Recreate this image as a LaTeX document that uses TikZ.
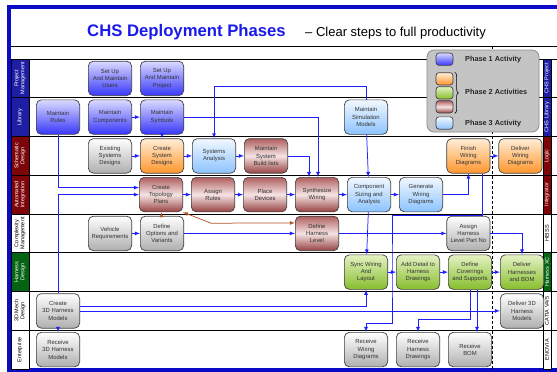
\documentclass[tikz,border=0pt]{standalone}
\usepackage{fontspec}
\setmainfont{Liberation Sans}
\usetikzlibrary{calc,positioning,decorations.pathreplacing}

\definecolor{frameblue}{RGB}{10,10,200}
\definecolor{titleblue}{RGB}{25,25,235}
\definecolor{laneblue}{RGB}{30,30,165}
\definecolor{lanered}{RGB}{125,5,10}
\definecolor{lanegreen}{RGB}{5,100,20}
\definecolor{flowblue}{RGB}{30,30,255}
\definecolor{flowbrown}{RGB}{180,85,40}
\definecolor{onetop}{RGB}{218,218,255}
\definecolor{onebot}{RGB}{55,55,250}
\definecolor{ortop}{RGB}{255,238,215}
\definecolor{orbot}{RGB}{255,150,45}
\definecolor{grtop}{RGB}{228,242,195}
\definecolor{grbot}{RGB}{135,190,45}
\definecolor{rdtop}{RGB}{175,95,95}
\definecolor{rdmid}{RGB}{246,228,228}
\definecolor{rdbot}{RGB}{150,65,65}
\definecolor{lbtop}{RGB}{242,248,255}
\definecolor{lbbot}{RGB}{140,195,255}
\definecolor{gytop}{RGB}{255,255,255}
\definecolor{gybot}{RGB}{175,175,175}

\begin{document}
\begin{tikzpicture}[x=1pt,y=-1pt,node distance=8pt and 8pt]

\tikzset{act/.style={font=\fontsize{5.9}{7.3}\selectfont,text=black!80,align=center,draw=black!75,line width=.7pt,rounded corners=5pt,inner sep=0pt,minimum width=43.3pt,minimum height=34.5pt},
phaseone/.style={act,top color=onetop,bottom color=onebot},
phaseor/.style={act,top color=ortop,bottom color=orbot},
phasegr/.style={act,top color=grtop,bottom color=grbot},
phaserd/.style={act,top color=rdtop,bottom color=rdbot,middle color=rdmid},
phasethree/.style={act,top color=lbtop,bottom color=lbbot},
plainact/.style={act,top color=gytop,bottom color=gybot},
swatch/.style={minimum width=17pt,minimum height=12.3pt,rounded corners=3pt},
lanetag/.style={rotate=90,draw=black,line width=.6pt,inner sep=0pt,minimum width=38.75pt,align=center,font=\fontsize{5.5}{6.1}\selectfont},
laneline/.style={draw=black,line width=.6pt},
flow/.style={draw=flowblue,line width=.75pt,-latex},
brownflow/.style={draw=flowbrown,line width=.75pt,-latex},
legendtext/.style={anchor=west,inner sep=0pt,font=\bfseries\fontsize{7.3}{8}\selectfont,text=black!85}}

\useasboundingbox (0,0) rectangle (557,372);
\clip (0,0) rectangle (557,372);

% Frame and title
\draw[frameblue,line width=3.8pt] (8.8,6.7) rectangle (620,370.3);
\node[anchor=base west,inner sep=0pt,font=\bfseries\fontsize{16.7}{20}\selectfont,text=titleblue] (title) at (87,36) {CHS Deployment Phases};
\node[anchor=base west,inner sep=0pt,font=\fontsize{13}{15}\selectfont] (subtitle) at (305,36) {– Clear steps to full productivity};

% Swim lanes
\draw[laneline] (11,46) -- (557,46);
\foreach \i in {0,...,7} \draw[laneline] (11,{59+38.75*\i}) -- (557,{59+38.75*\i});
\foreach \txt/\fc/\tc [count=\i from 0] in {Project\\Management/laneblue/white, Library/laneblue/white, Schematic\\Design/lanered/white, Automated\\Integration/lanered/white, Complexity\\Management/white/black, Harness\\Design/lanegreen/white, 3D Mech\\Design/white/black, Enterprise/white/black}
  \node[lanetag,minimum height=18pt,fill=\fc,text=\tc] (left\i) at (20,{78.4+38.75*\i}) {\txt};
\foreach \txt/\fc/\tc [count=\i from 0] in {CHS Project/laneblue/white, CHS Library/laneblue/white, Logic/lanered/white, Integrator/lanered/white, HEISS/white/black, Harness XC/lanegreen/white, {CATIA V4/5}/white/black, ENOVIA/white/black}
  \node[lanetag,minimum height=8pt,fill=\fc,text=\tc] (right\i) at (547,{78.4+38.75*\i}) {\txt};
\draw[line width=.6pt,dash pattern=on 3pt off 2pt] (492,46) -- (492,369);

% Legend
\node[draw=black!45,fill=black!23,line width=.8pt,rounded corners=7pt,minimum width=112pt,minimum height=82pt] (legend) at (483,91) {};
\node[phaseone,swatch] (lgone) at (444.5,59.2) {};
\node[phaseor,swatch] (lgor) at (444.5,78.8) {};
\node[phasegr,swatch,below=1pt of lgor] (lggr) {};
\node[phaserd,swatch,below=1pt of lggr] (lgrd) {};
\node[phasethree,swatch] (lgthree) at (444.5,123) {};
\draw[line width=.6pt,decorate,decoration={brace,amplitude=3.5pt}] ($(lgor.north east)+(1.5,0)$) -- ($(lgrd.south east)+(1.5,0)$);
\node[legendtext] (lgonetxt) at (465,59.5) {Phase 1 Activity};
\node[legendtext] (lgtwotxt) at (465,92) {Phase 2 Activities};
\node[legendtext] (lgthreetxt) at (465,123.3) {Phase 3 Activity};

% Project management and library
\node[phaseone] (users) at (110,78.4) {Set Up\\And Maintain\\Users};
\node[phaseone,right=of users] (proj) {Set Up\\And Maintain\\Project};
\node[phaseone] (rules) at (58,117.1) {Maintain\\Rules};
\node[phaseone] (comp) at (110,117.1) {Maintain\\Components};
\node[phaseone,right=of comp] (symb) {Maintain\\Symbols};
\node[phasethree] (sim) at (366,117.1) {Maintain\\Simulation\\Models};

% Schematic design
\node[plainact] (exist) at (110,155.9) {Existing\\Systems\\Designs};
\node[phaseor,right=of exist] (csd) {Create\\System\\Designs};
\node[phasethree,right=of csd] (sysan) {Systems\\Analysis};
\node[phaserd,right=of sysan] (build) {Maintain\\System\\Build lists};
\node[phaseor] (finish) at (468.4,155.9) {Finish\\Wiring\\Diagrams};
\node[phaseor,right=of finish] (dwd) {Deliver\\Wiring\\Diagrams};

% Automated integration
\node[phaserd] (topo) at (161,194.6) {Create\\Topology\\Plans};
\node[phaserd,right=of topo] (assign) {Assign\\Rules};
\node[phaserd,right=of assign] (place) {Place\\Devices};
\node[phaserd,right=of place] (synth) {Synthesize\\Wiring};
\node[phasethree,right=of synth] (csa) {Component\\Sizing and\\Analysis};
\node[phasethree,right=of csa] (gen) {Generate\\Wiring\\Diagrams};

% Complexity management
\node[plainact] (veh) at (110,233.4) {Vehicle\\Requirements};
\node[plainact,right=of veh] (opt) {Define\\Options and\\Variants};
\node[phaserd] (dhl) at (synth |- veh) {Define\\Harness\\Level};
\node[plainact] (ahl) at (finish |- veh) {Assign\\Harness\\Level Part No};

% Harness design
\node[phasegr] (sync) at (366,272.1) {Sync Wiring\\And\\Layout};
\node[phasegr,right=of sync] (add) {Add Detail to\\Harness\\Drawings};
\node[phasegr,right=of add] (dcs) {Define\\Coverings\\and Supports};
\node[phasegr,right=of dcs] (dhb) {Deliver\\Harnesses\\and BOM};

% 3D mech design and enterprise
\node[plainact] (c3d) at (58,310.9) {Create\\3D Harness\\Models};
\node[plainact] (d3d) at (dhb |- c3d) {Deliver 3D\\Harness\\Models};
\node[plainact] (r3d) at (58,349.6) {Receive\\3D Harness\\Models};
\node[plainact] (rwd) at (366,349.6) {Receive\\Wiring\\Diagrams};
\node[plainact,right=of rwd] (rhd) {Receive\\Harness\\Drawings};
\node[plainact,right=of rhd] (rbom) {Receive\\BOM};

% Flows
\draw[flow] (comp) -- (symb);
\draw[flow] (symb) -- (csd);
\draw[flow] (exist) -- (csd);
\draw[flow] (csd) -- (sysan);
\draw[flow] (sysan) -- (build);
\draw[flow] (symb) -| ($(synth.north)+(1,0)$);
\draw[flow] (build) -| ($(synth.north)+(-8,0)$);
\draw[flow] (sim.north) -- ++(0,-13.3) -| (sysan.north);
\draw[flow] (sim) -- (csa);
\draw[flow] (topo) -- (assign);
\draw[flow] (assign) -- (place);
\draw[flow] (place) -- (synth);
\draw[flow] (synth) -- (csa);
\draw[flow] (csa) -- (gen);
\draw[flow] (gen) -| (finish);
\draw[flow] (finish) -- (dwd);
\draw[flow] (rules) |- ($(topo.west)+(0,-7)$);
\draw[flow] (c3d) |- (topo);
\draw[brownflow] (opt) -- (topo);
\draw[brownflow,latex-latex] (topo.south east) -- ++(28,11) -- ($(dhl.west)+(0,-10.5)$);
\draw[flow] (veh) -- (opt);
\draw[flow] (opt) -- (dhl);
\draw[flow] (dhl) -- (ahl);
\draw[flow] (ahl) -| (dhb);
\draw[flow] (csa) -- (sync);
\draw[flow] ($(finish.south)+(14,0)$) -- ++(0,42) -| ($(sync.east)+(4,0)$) -- ++(0,51) -| (rwd);
\draw[flow] (sync) -- (add);
\draw[flow] (add) -- (dcs);
\draw[flow] (dcs) -- (dhb);
\draw[flow] (dcs.south) -- ++(0,29.5) -| (rhd);
\draw[flow] ($(dcs.south)+(7,0)$) -- ($(rbom.north)+(7,0)$);
\draw[flow] ($(c3d.east)+(0,-5)$) -| (sync);
\draw[flow] (c3d) -- (d3d);
\draw[flow] (c3d) -- (r3d);

\end{tikzpicture}
\end{document}
